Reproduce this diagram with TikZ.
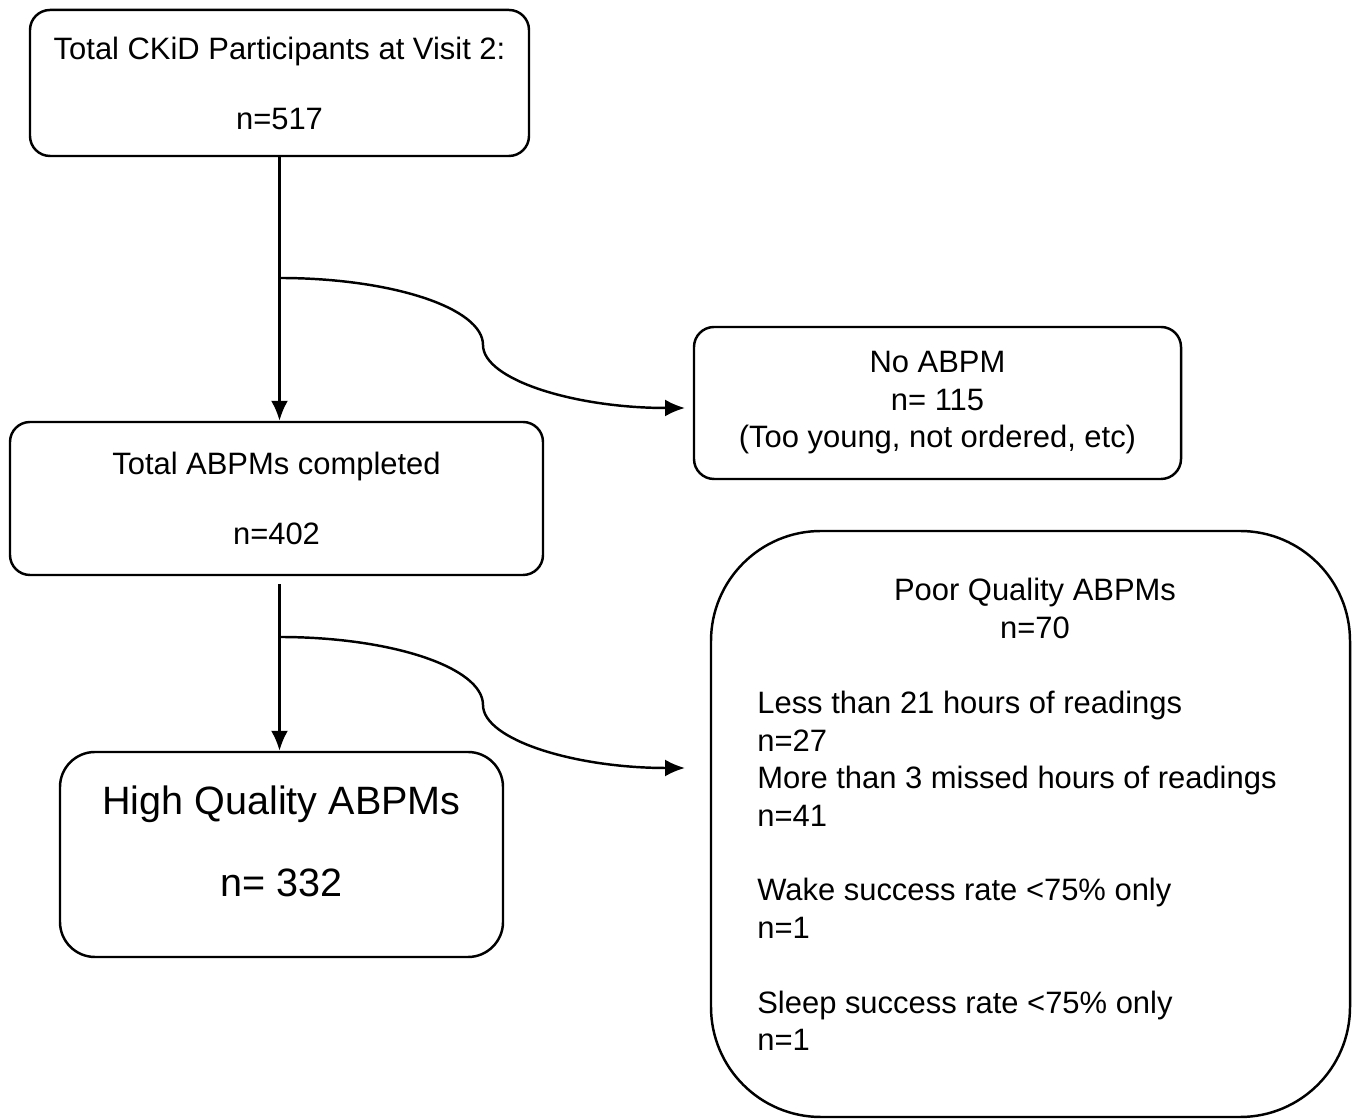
\documentclass[tikz,border=0pt]{standalone}
\usepackage{fontspec}
\setmainfont{Liberation Sans}
\usetikzlibrary{arrows.meta}

\begin{document}
\begin{tikzpicture}[x=1cm, y=1cm,
				>={Latex[length=4mm,width=3.4mm]},   %Pfeilspitzen
				box/.style={draw, line width=1.4pt, rounded corners=#1, align=center, inner sep=0pt},
				box/.default=0.4cm,
				flow/.style={->, line width=1.4pt},
				font=\fontsize{17.6pt}{21.3pt}\selectfont]
				\useasboundingbox (0,0) rectangle (27.2,22.38);
				% Kaesten zeichnen
				\node[box, minimum width=9.98cm, minimum height=2.92cm] (visit) at (5.59,20.72) {Total CKiD Participants at Visit 2:\\[18.5pt] n=517};
				\node[box, minimum width=9.74cm, minimum height=3.04cm] (noabpm) at (18.75,14.32) {No ABPM\\ n= 115\\ (Too young, not ordered, etc)};
				\node[box, minimum width=10.66cm, minimum height=3.06cm] (done) at (5.53,12.41) {Total ABPMs completed\\[18.5pt] n=402};
				\node[box=0.7cm, minimum width=8.86cm, minimum height=4.1cm, text depth=0.54cm, font=\fontsize{22.5pt}{27pt}\selectfont] (high) at (5.63,5.29) {High Quality ABPMs\\[20pt] n= 332};
				\node[box=2.2cm, minimum width=12.78cm, minimum height=11.72cm] (poor) at (20.61,5.9) {};
				% Texte im grossen Kasten
				\node[anchor=north, align=center, inner sep=0pt] (poorhead) at (20.7,10.82) {Poor Quality ABPMs\\ n=70};
				\node[anchor=north west, align=left, inner sep=0pt] (poorlist) at (15.14,8.56) {Less than 21 hours of readings\\ n=27\\ More than 3 missed hours of readings\\ n=41\\[21.3pt] Wake success rate <75\% only\\ n=1\\[21.3pt] Sleep success rate <75\% only\\ n=1};
				% Pfeile zeichnen
				\coordinate (split1) at (5.59,16.82);
				\coordinate (mid1) at (9.66,15.48);
				\coordinate (end1) at (13.70,14.22);
				\coordinate (split2) at (5.59,9.64);
				\coordinate (mid2) at (9.66,8.28);
				\coordinate (end2) at (13.70,7.02);
				\coordinate (start2) at (visit.south |- done.south);
				\draw[flow] (visit.south) -- (visit.south |- done.north);
				\draw[flow] ([yshift=-0.16cm]start2) -- (start2 |- high.north);
				\draw[flow] (split1) .. controls +(2.24,0) and +(0,0.74) .. (mid1) .. controls +(0,-0.69) and +(-2.22,0) .. (end1);
				\draw[flow] (split2) .. controls +(2.24,0) and +(0,0.75) .. (mid2) .. controls +(0,-0.69) and +(-2.22,0) .. (end2);
			\end{tikzpicture}
\end{document}
